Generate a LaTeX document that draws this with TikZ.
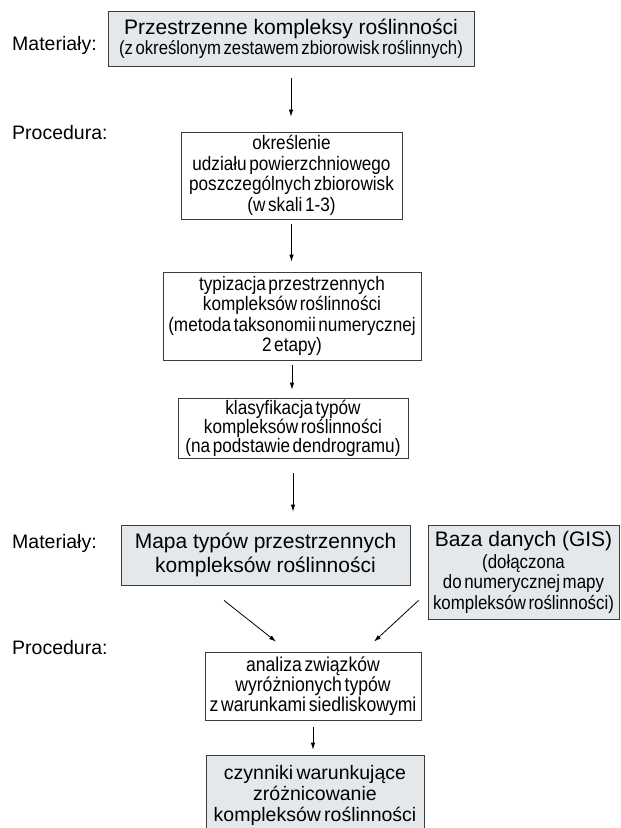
\documentclass[tikz,border=0pt]{standalone}
\usepackage{fontspec}
\setmainfont{Liberation Sans}
\newfontfamily\narrowf{Liberation Sans}[FakeStretch=0.88,WordSpace=0.55]
\newfontfamily\tightf{Liberation Sans}[WordSpace=0.6]
\usetikzlibrary{arrows.meta,calc}
\definecolor{boxfill}{RGB}{229,232,235}
\definecolor{boxline}{RGB}{60,60,60}
\begin{document}
\begin{tikzpicture}[x=1pt,y=-1pt,
  box/.style={draw=boxline,line width=0.8pt,inner sep=0pt,align=center,anchor=center},
  graybox/.style={box,fill=boxfill},
  whitebox/.style={box,fill=white},
  lab/.style={anchor=west,inner sep=0pt,font=\fontsize{19.5}{22}\selectfont},
  arr/.style={draw=black,line width=0.8pt,-{Latex[length=7pt,width=4.5pt]}},
  narrowtext/.style={font=\narrowf\fontsize{19.5}{20.5}\selectfont}]
\useasboundingbox (0,0) rectangle (621,828);
\fill[white] (0,0) rectangle (621,828);
\begin{scope}
\clip (0,0) rectangle (621,828);

% labels
\node[lab] (m1) at (12,45) {Materiały:};
\node[lab] (p1) at (12,133) {Procedura:};
\node[lab] (m2) at (12,543) {Materiały:};
\node[lab] (p2) at (12,648) {Procedura:};

% boxes
\node[graybox,minimum width=366pt,minimum height=55pt,font=\fontsize{21}{20}\selectfont] (b1) at (291,38.5)
  {Przestrzenne kompleksy roślinności\\[0.5pt]{\narrowf\fontsize{19}{20}\selectfont (z określonym zestawem zbiorowisk roślinnych)}};

\node[whitebox,narrowtext,minimum width=221pt,minimum height=87pt] (b2) at (291.5,175.5)
  {określenie\\udziału powierzchniowego\\poszczególnych zbiorowisk\\(w skali 1-3)};

\node[whitebox,narrowtext,minimum width=258pt,minimum height=88pt] (b3) at (292,316)
  {typizacja przestrzennych\\kompleksów roślinności\\(metoda taksonomii numerycznej\\2 etapy)};

\node[whitebox,minimum width=230pt,minimum height=60pt,font=\narrowf\fontsize{19.5}{19}\selectfont] (b4) at (293,428)
  {klasyfikacja typów\\kompleksów roślinności\\(na podstawie dendrogramu)};

\node[graybox,minimum width=289pt,minimum height=60pt,font=\fontsize{21}{24}\selectfont] (mapa) at (265.5,555)
  {Mapa typów przestrzennych\\kompleksów roślinności};

\node[graybox,minimum width=191pt,minimum height=94pt,font=\fontsize{21}{20.5}\selectfont] (baza) at (523.5,572)
  {Baza danych (GIS)\\[1.5pt]{\narrowf\fontsize{19.2}{20.5}\selectfont (dołączona}\\{\narrowf\fontsize{19.2}{20.5}\selectfont do numerycznej mapy}\\{\narrowf\fontsize{19.2}{20.5}\selectfont kompleksów roślinności)}};

\node[whitebox,minimum width=216pt,minimum height=68pt,font=\narrowf\fontsize{20}{20}\selectfont] (b7) at (313,686)
  {analiza związków\\wyróżnionych typów\\z warunkami siedliskowymi};

\node[graybox,minimum width=218pt,minimum height=80pt,font=\tightf\fontsize{19.5}{21}\selectfont] (b8) at (315,795)
  {czynniki warunkujące\\zróżnicowanie\\kompleksów roślinności};

% connectors
\draw[arr,shorten <=12pt,shorten >=15pt] (b1.south) -- (b1.south |- b2.north);
\draw[arr,shorten <=5pt,shorten >=10pt] (b2.south) -- (b2.south |- b3.north);
\draw[arr,shorten <=5pt,shorten >=8pt] (b3.south) -- (b3.south |- b4.north);
\draw[arr,shorten <=15pt,shorten >=13pt] (b4.south) -- (b4.south |- mapa.north);
\draw[arr] ($(mapa.south)+(-41.5,15)$) -- ($(b7.north)+(-37,-10)$);
\draw[arr] ($(baza.south west)+(-9,-19)$) -- ($(b7.north)+(61,-10)$);
\draw[arr,shorten <=7pt,shorten >=5pt] (b7.south) -- (b7.south |- b8.north);
\end{scope}
\end{tikzpicture}
\end{document}
